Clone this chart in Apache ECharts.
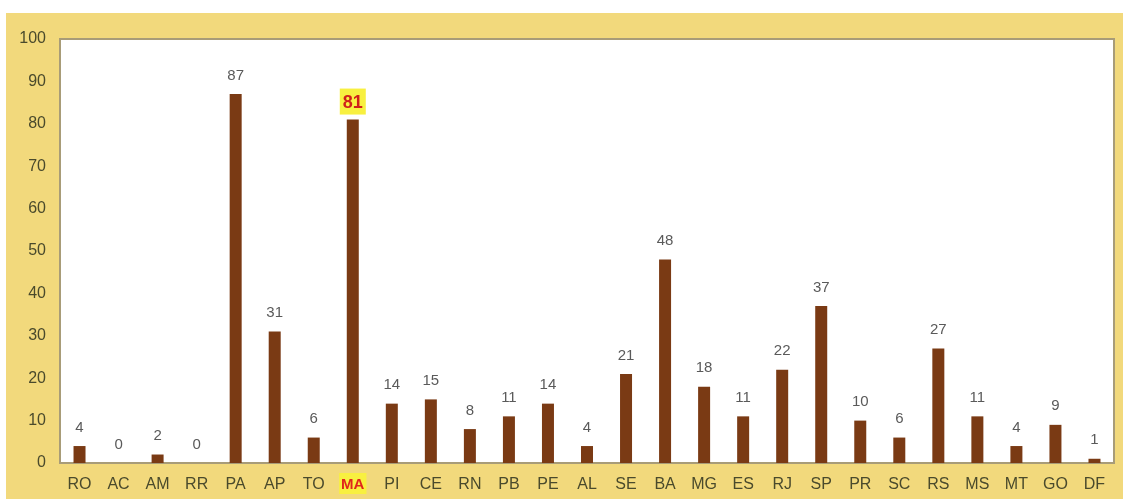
<!DOCTYPE html>
<html>
<head>
<meta charset="utf-8">
<style>
  html, body { margin: 0; padding: 0; background: #fff; }
  #chart { width: 1123px; height: 499px; }
</style>
<script src="https://cdn.jsdelivr.net/npm/echarts@6/dist/echarts.min.js"></script>
</head>
<body>
<div id="chart"></div>
<script>
// estados
const states = ['RO', 'AC', 'AM', 'RR', 'PA', 'AP', 'TO', 'MA', 'PI', 'CE', 'RN', 'PB', 'PE', 'AL',
  'SE', 'BA', 'MG', 'ES', 'RJ', 'SP', 'PR', 'SC', 'RS', 'MS', 'MT', 'GO', 'DF'];
// valores por estado
const values = [4, 0, 2, 0, 87, 31, 6, 81, 14, 15, 8, 11, 14, 4, 21, 48, 18, 11, 22, 37, 10, 6, 27, 11, 4, 9, 1];
const highlight = 'MA'; // estado destacado

const chart = echarts.init(document.getElementById('chart'));

const barData = values.map((v, i) => {
  if (states[i] !== highlight) return v;
  return {
    value: v,
    label: {
      color: '#d0201a',
      fontWeight: 'bold',
      fontSize: 18,
      distance: 5,
      backgroundColor: '#f8f040',
      padding: [5, 3, 3, 3]
    }
  };
});

const option = {
  backgroundColor: '#ffffff',
  animation: false,
  graphic: [{
    type: 'rect',
    z: -10,
    shape: { x: 6, y: 13, width: 1117, height: 486 },
    style: { fill: '#f2d97c' }
  }],
  grid: {
    left: 60, right: 9, top: 39, bottom: 36,
    show: true,
    backgroundColor: '#ffffff',
    borderColor: '#a89c78',
    borderWidth: 2
  },
  xAxis: {
    type: 'category',
    data: states,
    axisLine: { show: false },
    axisTick: { show: false },
    axisLabel: {
      interval: 0,
      margin: 10,
      formatter: s => s === highlight ? '{hl|' + s + '}' : '{n|' + s + '}',
      rich: {
        n: {
          color: '#4a4a2c',
          fontSize: 16,
          fontFamily: 'Liberation Sans',
          padding: [4, 2, 2, 2]
        },
        hl: {
          color: '#e0261c',
          fontWeight: 'bold',
          fontSize: 15,
          fontFamily: 'Liberation Sans',
          backgroundColor: '#f8f040',
          padding: [4, 2, 2, 2]
        }
      }
    }
  },
  yAxis: {
    type: 'value',
    min: 0, max: 100, interval: 10,
    splitLine: { show: false },
    axisLine: { show: false },
    axisTick: { show: false },
    axisLabel: {
      margin: 14,
      fontFamily: 'Liberation Sans',
      fontSize: 16,
      color: '#4a4a2c'
    }
  },
  series: [{
    type: 'bar',
    data: barData,
    barWidth: 12,
    itemStyle: { color: '#7a3a14' },
    label: {
      show: true,
      position: 'top',
      distance: 11,
      fontFamily: 'Liberation Sans',
      fontSize: 15,
      color: '#5a5a5a'
    }
  }]
};

chart.setOption(option);
</script>
</body>
</html>
